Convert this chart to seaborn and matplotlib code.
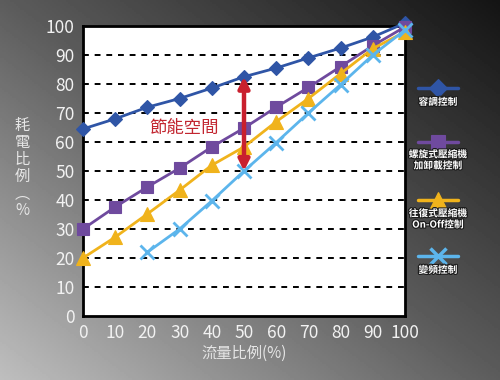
import matplotlib
matplotlib.use("Agg")
import matplotlib.pyplot as plt
import matplotlib.patheffects as pe
import numpy as np
import pandas as pd
import seaborn as sns

sns.set_theme(style="white")
plt.rcParams["font.family"] = ["Noto Sans CJK TC", "DejaVu Sans"]

# Data
flow = [0, 10, 20, 30, 40, 50, 60, 70, 80, 90, 100]
capacity_ctrl = [64.5, 68, 72, 75, 78.6, 82.5, 85.5, 89, 92.4, 96.2, 101]
screw_ctrl = [30, 37.6, 44.5, 51, 58.3, 64.8, 72, 78.8, 86, 93.2, 99.7]
recip_ctrl = [20, 27.2, 35.2, 43.4, 52, 58.3, 67, 75, 83.6, 92.2, 98]
inverter_flow = [20, 30, 40, 50, 60, 70, 80, 90, 100]
inverter_ctrl = [22, 30, 39.7, 50, 59.8, 70, 79.8, 90, 98.6]

series_names = ["容調控制", "螺旋式壓縮機\n加卸載控制", "往復式壓縮機\nOn-Off控制", "變頻控制"]
series_colors = ["#2f55a6", "#6f4a9e", "#f0b31c", "#5cb5ec"]
series_markers = ["D", "s", "^", "x"]
marker_sizes = [7.5, 8.5, 10, 10]

x_ticks = [0, 10, 20, 30, 40, 50, 60, 70, 80, 90, 100]
y_ticks = [0, 10, 20, 30, 40, 50, 60, 70, 80, 90, 100]
saving_x = 50
saving_range = [50, 82.5]

frames = [
    pd.DataFrame({"flow": flow, "power": capacity_ctrl}),
    pd.DataFrame({"flow": flow, "power": screw_ctrl}),
    pd.DataFrame({"flow": flow, "power": recip_ctrl}),
    pd.DataFrame({"flow": inverter_flow, "power": inverter_ctrl}),
]

fig = plt.figure(figsize=(5, 3.8), dpi=100)

# gradient background: light bottom-left, dark top-right
bg = fig.add_axes([0, 0, 1, 1], zorder=-10)
gx, gy = np.meshgrid(np.linspace(0, 1, 250), np.linspace(0, 1, 190))
t = (gx - gy + 1) / 2
shade = np.interp(t, [0, 0.5, 1], [190, 92, 20]) / 255
bg.imshow(shade, cmap="gray", vmin=0, vmax=1, aspect="auto", extent=[0, 1, 0, 1], origin="upper")
bg.axis("off")

ax = fig.add_axes([83 / 500, 64 / 380, 322 / 500, 290 / 380])
ax.set_facecolor("white")

for df, name, c, m, ms in zip(frames, series_names, series_colors, series_markers, marker_sizes):
    sns.lineplot(data=df, x="flow", y="power", ax=ax, color=c, linewidth=2,
                 marker=m, markersize=ms, markeredgecolor=c,
                 markeredgewidth=2 if m == "x" else 0.8, clip_on=False, zorder=3)

ax.set_xlim(0, 100)
ax.set_ylim(0, 100)
ax.set_xticks(x_ticks)
ax.set_yticks(y_ticks)
for yv in y_ticks[1:-1]:
    ax.axhline(yv, color="black", linestyle=(0, (3, 3)), linewidth=1.4, zorder=1)

for s in ax.spines.values():
    s.set_color("black")
    s.set_linewidth(2)

ax.tick_params(axis="x", direction="in", length=8, width=2, color="black",
               labelsize=12.5, labelcolor="#f2f2f2", pad=6)
ax.tick_params(axis="y", length=0, labelsize=12.5, labelcolor="#f2f2f2", pad=6)
ax.set_xlabel("流量比例(%)", fontsize=11, color="#e6e6e6", labelpad=2)
ax.set_ylabel("")

# saving-space arrow
ax.annotate("", xy=(saving_x, saving_range[1]), xytext=(saving_x, saving_range[0]),
            arrowprops=dict(arrowstyle="<|-|>", color="#c9202e", lw=3.2,
                            mutation_scale=16, shrinkA=0, shrinkB=0), zorder=4)
ax.text(31.5, 65, "節能空間", color="#c22630", fontsize=12.5, ha="center", va="center", zorder=5)

# vertical y label and custom legend in pixel overlay
ov = fig.add_axes([0, 0, 1, 1], zorder=5)
ov.set_xlim(0, 500)
ov.set_ylim(380, 0)
ov.axis("off")
ov.text(22, 168, "耗\n電\n比\n例\n︵\n%", color="#e6e6e6", fontsize=11,
        ha="center", va="center", linespacing=1.0)

leg_y = [88, 142, 200, 256]
label_y = [102, 160, 219, 270]
shadow = [pe.withStroke(linewidth=1.6, foreground="#1a1a1a")]
for name, c, m, ms, ly, ty in zip(series_names, series_colors, series_markers, marker_sizes, leg_y, label_y):
    ov.plot([418, 438, 458], [ly, ly, ly], color=c, linewidth=2.5, marker=m,
            markevery=[1], markersize=ms + 2, markeredgecolor=c,
            markeredgewidth=2.5 if m == "x" else 0.8)
    ov.text(438, ty, name, color="white", fontsize=7, fontweight="bold",
            ha="center", va="center", linespacing=1.15, path_effects=shadow)

fig.savefig("out.png", dpi=100)
